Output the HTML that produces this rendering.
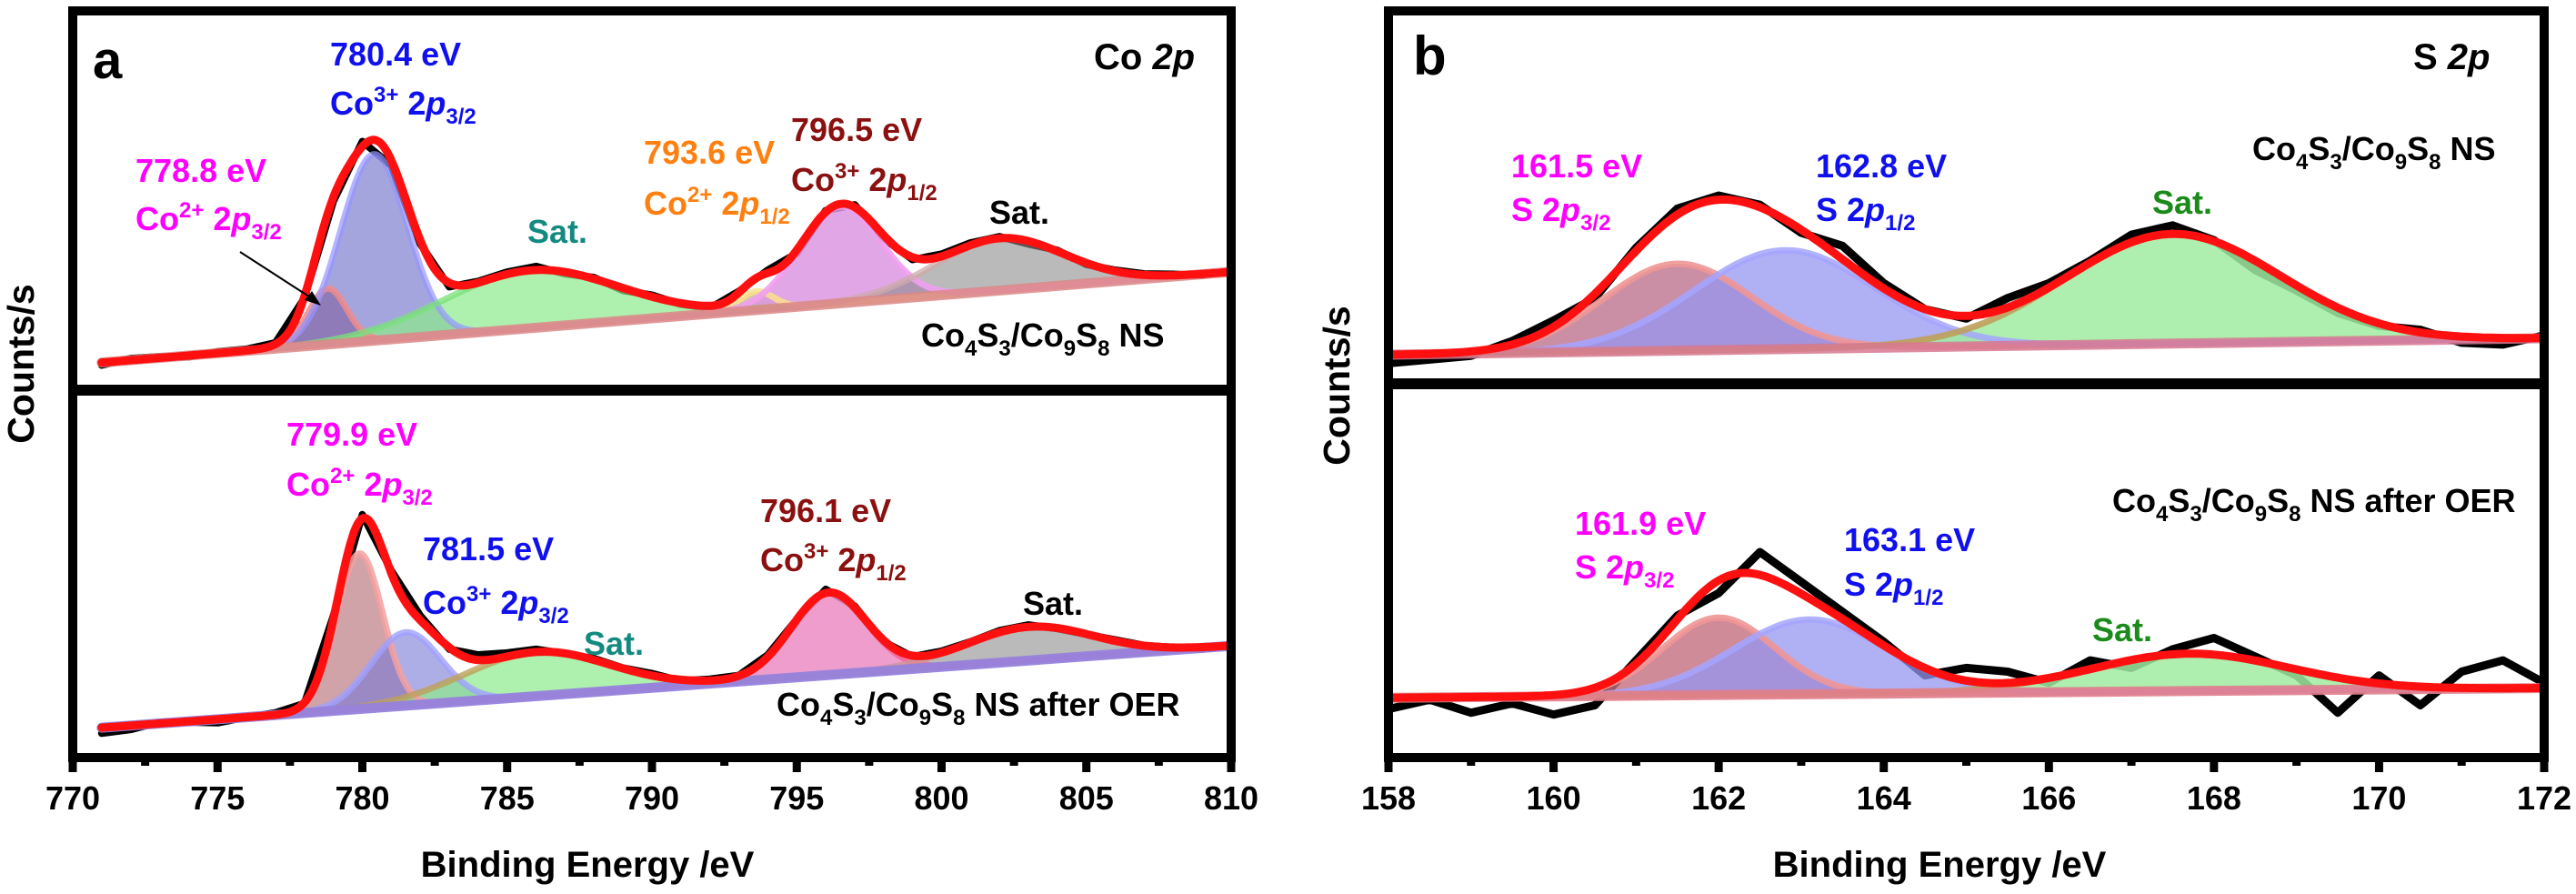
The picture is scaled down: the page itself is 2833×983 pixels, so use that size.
<!DOCTYPE html>
<html><head><meta charset="utf-8">
<style>
html,body{margin:0;padding:0;background:#fff;}
svg{display:block;font-family:"Liberation Sans",Arial,sans-serif;font-weight:bold;}
</style></head>
<body>
<svg id="chart" width="2833" height="983" viewBox="0 0 2833 983" xmlns="http://www.w3.org/2000/svg">
<defs>
<clipPath id="clipATop"><rect x="85" y="17" width="1264" height="405"/></clipPath>
<clipPath id="clipABot"><rect x="85" y="435" width="1264" height="393"/></clipPath>
<clipPath id="clipBTop"><rect x="1532" y="17" width="1261" height="399"/></clipPath>
<clipPath id="clipBBot"><rect x="1532" y="428" width="1261" height="400"/></clipPath>
</defs>
<g id="series"></g>
<g id="frames"></g>
<g id="ticks"></g>

<!-- axis titles -->
<text x="0" y="0" font-size="41" text-anchor="middle" transform="translate(37,400) rotate(-90)">Counts/s</text>
<text x="0" y="0" font-size="41" text-anchor="middle" transform="translate(1484,424) rotate(-90)">Counts/s</text>
<text x="646" y="964" font-size="40" text-anchor="middle">Binding Energy /eV</text>
<text x="2133" y="964" font-size="40" text-anchor="middle">Binding Energy /eV</text>

<!-- panel a labels -->
<text x="102" y="86" font-size="58">a</text>
<text x="1203" y="76" font-size="40">Co <tspan font-style="italic">2p</tspan></text>
<text x="363" y="72" font-size="36" fill="#1010ee">780.4 eV</text>
<text x="363" y="126" font-size="36" fill="#1010ee">Co<tspan dy="-14" font-size="24">3+</tspan><tspan dy="14"> 2</tspan><tspan font-style="italic">p</tspan><tspan dy="10" font-size="24">3/2</tspan></text>
<text x="149" y="200" font-size="36" fill="#ff00ff">778.8 eV</text>
<text x="149" y="253" font-size="36" fill="#ff00ff">Co<tspan dy="-14" font-size="24">2+</tspan><tspan dy="14"> 2</tspan><tspan font-style="italic">p</tspan><tspan dy="10" font-size="24">3/2</tspan></text>
<line x1="264" y1="277" x2="346" y2="330" stroke="#000" stroke-width="2"/>
<polygon points="353,336 335,330 343,320" fill="#000"/>
<text x="580" y="267" font-size="36" fill="#138a80">Sat.</text>
<text x="708" y="180" font-size="36" fill="#ff8010">793.6 eV</text>
<text x="708" y="236" font-size="36" fill="#ff8010">Co<tspan dy="-14" font-size="24">2+</tspan><tspan dy="14"> 2</tspan><tspan font-style="italic">p</tspan><tspan dy="10" font-size="24">1/2</tspan></text>
<text x="870" y="155" font-size="36" fill="#8b1010">796.5 eV</text>
<text x="870" y="210" font-size="36" fill="#8b1010">Co<tspan dy="-14" font-size="24">3+</tspan><tspan dy="14"> 2</tspan><tspan font-style="italic">p</tspan><tspan dy="10" font-size="24">1/2</tspan></text>
<text x="1088" y="246" font-size="36" fill="#000">Sat.</text>
<text x="1013" y="381" font-size="36">Co<tspan dy="10" font-size="24">4</tspan><tspan dy="-10">S</tspan><tspan dy="10" font-size="24">3</tspan><tspan dy="-10">/Co</tspan><tspan dy="10" font-size="24">9</tspan><tspan dy="-10">S</tspan><tspan dy="10" font-size="24">8</tspan><tspan dy="-10"> NS</tspan></text>

<text x="315" y="490" font-size="36" fill="#ff00ff">779.9 eV</text>
<text x="315" y="545" font-size="36" fill="#ff00ff">Co<tspan dy="-14" font-size="24">2+</tspan><tspan dy="14"> 2</tspan><tspan font-style="italic">p</tspan><tspan dy="10" font-size="24">3/2</tspan></text>
<text x="465" y="616" font-size="36" fill="#1010ee">781.5 eV</text>
<text x="465" y="675" font-size="36" fill="#1010ee">Co<tspan dy="-14" font-size="24">3+</tspan><tspan dy="14"> 2</tspan><tspan font-style="italic">p</tspan><tspan dy="10" font-size="24">3/2</tspan></text>
<text x="642" y="720" font-size="36" fill="#138a80">Sat.</text>
<text x="836" y="574" font-size="36" fill="#8b1010">796.1 eV</text>
<text x="836" y="628" font-size="36" fill="#8b1010">Co<tspan dy="-14" font-size="24">3+</tspan><tspan dy="14"> 2</tspan><tspan font-style="italic">p</tspan><tspan dy="10" font-size="24">1/2</tspan></text>
<text x="1125" y="676" font-size="36" fill="#000">Sat.</text>
<text x="854" y="787" font-size="36">Co<tspan dy="10" font-size="24">4</tspan><tspan dy="-10">S</tspan><tspan dy="10" font-size="24">3</tspan><tspan dy="-10">/Co</tspan><tspan dy="10" font-size="24">9</tspan><tspan dy="-10">S</tspan><tspan dy="10" font-size="24">8</tspan><tspan dy="-10"> NS after OER</tspan></text>

<!-- panel b labels -->
<text x="1554" y="82" font-size="60">b</text>
<text x="2654" y="76" font-size="40">S <tspan font-style="italic">2p</tspan></text>
<text x="1662" y="195" font-size="36" fill="#ff00ff">161.5 eV</text>
<text x="1662" y="243" font-size="36" fill="#ff00ff">S 2<tspan font-style="italic">p</tspan><tspan dy="10" font-size="24">3/2</tspan></text>
<text x="1997" y="195" font-size="36" fill="#1010ee">162.8 eV</text>
<text x="1997" y="243" font-size="36" fill="#1010ee">S 2<tspan font-style="italic">p</tspan><tspan dy="10" font-size="24">1/2</tspan></text>
<text x="2367" y="235" font-size="36" fill="#1a8a1a">Sat.</text>
<text x="2477" y="176" font-size="36">Co<tspan dy="10" font-size="24">4</tspan><tspan dy="-10">S</tspan><tspan dy="10" font-size="24">3</tspan><tspan dy="-10">/Co</tspan><tspan dy="10" font-size="24">9</tspan><tspan dy="-10">S</tspan><tspan dy="10" font-size="24">8</tspan><tspan dy="-10"> NS</tspan></text>
<text x="2323" y="563" font-size="36">Co<tspan dy="10" font-size="24">4</tspan><tspan dy="-10">S</tspan><tspan dy="10" font-size="24">3</tspan><tspan dy="-10">/Co</tspan><tspan dy="10" font-size="24">9</tspan><tspan dy="-10">S</tspan><tspan dy="10" font-size="24">8</tspan><tspan dy="-10"> NS after OER</tspan></text>
<text x="1732" y="588" font-size="36" fill="#ff00ff">161.9 eV</text>
<text x="1732" y="636" font-size="36" fill="#ff00ff">S 2<tspan font-style="italic">p</tspan><tspan dy="10" font-size="24">3/2</tspan></text>
<text x="2028" y="606" font-size="36" fill="#1010ee">163.1 eV</text>
<text x="2028" y="655" font-size="36" fill="#1010ee">S 2<tspan font-style="italic">p</tspan><tspan dy="10" font-size="24">1/2</tspan></text>
<text x="2301" y="705" font-size="36" fill="#1a8a1a">Sat.</text>
</svg>

<script>
// ---------- data ----------
const aTopRaw = [5,6.8,7.3,7.2,8.6,9.3,11,23,49,65,58.5,37.5,26,27.5,30,31.5,29.5,28.5,25,23.8,21.3,20.3,24.8,30.5,35,46.5,48,39,33.3,34.8,37.8,39.5,37.5,35.8,32,30.5,29.5,29.4,29.1,30.4];
const aTopBaseline = [5.7, 30.0];
const aTopCenters = [778.8, 780.4, 785.8, 793.6, 796.5, 802];
const aTopHeights = [15, 50, 15.5, 5, 26, 14];
const aTopSigmas = [0.66, 1.15, 3.0, 0.6, 1.4, 2.2];

const aBotRaw = [6.5,7.5,9.5,9.5,9.3,10.8,12,14.5,38,65,50,38,29,27.5,28,29,27.8,26.5,24,22.5,20.5,21,22,27.5,37,45,40.5,31,27,28.5,31,34,35.5,34.5,33,31.5,30,29.5,29,30];
const aBotBaseline = [8, 29.9];
const aBotCenters = [779.9, 781.5, 786, 796.1, 803];
const aBotHeights = [41.6, 19.6, 11.8, 22, 9];
const aBotSigmas = [0.8, 1.2, 2.5, 1.3, 2.2];

const bTopRaw = [5.5,6.5,7.5,11.5,17,23,36.5,47,50.5,48,40.5,37,27,20,17.5,23,27,33,40,42.5,38.5,30.5,25,19,15.5,14.5,11,10.5,13];
const bTopBaseline = [7.8, 12.2];
const bTopCenters = [161.5, 162.8, 167.5];
const bTopHeights = [23.3, 26.5, 29.4];
const bTopSigmas = [0.9, 1.1, 1.3];

const bBotRaw = [13,15.5,12,14.5,11.5,14,26,38,44,55,47,39,31,22,24,23,20,26,24,29,32,27,22,12,22,14,23,26,20];
const bBotBaseline = [16, 18.6];
const bBotCenters = [162, 163.1, 167.7];
const bBotHeights = [20.7, 20, 10];
const bBotSigmas = [0.68, 0.93, 1.2];

const aTicks = [770,775,780,785,790,795,800,805,810];
const bTicks = [158,160,162,164,166,168,170,172];

// ---------- geometry ----------
const NS = 'http://www.w3.org/2000/svg';
const A = {x0:80, x1:1354, e0:770, e1:810, div:429};
const B = {x0:1527, x1:2798, e0:158, e1:172, div:422};
const TOP = {y0:422, k:4.1}, BOT = {y0:833, k:4.11};
const sx = (P, e) => P.x0 + (e - P.e0) / (P.e1 - P.e0) * (P.x1 - P.x0);
const sy = (S, v) => S.y0 - v * S.k;

function el(tag, attrs, parent){
  const n = document.createElementNS(NS, tag);
  for (const k in attrs) n.setAttribute(k, attrs[k]);
  parent.appendChild(n);
  return n;
}

const series = document.getElementById('series');

function drawSub(name, P, S, clip, rawStart, rawStep, raw, baseEnds, centers, heights, sigmas, style){
  const g = el('g', {'clip-path':'url(#'+clip+')'}, series);
  
  
  const lo = rawStart, hi = rawStart + rawStep * (raw.length - 1);
  const base = e => baseEnds[0] + (baseEnds[1] - baseEnds[0]) * (e - lo) / (hi - lo);
  const comp = (i, e) => heights[i] * Math.exp(-Math.pow(e - centers[i], 2) / (2 * sigmas[i] * sigmas[i]));
  const grid = [];
  for (let e = lo; e <= hi + 1e-9; e += 0.05) grid.push(e);

  let d = raw.map((v, i) => (i ? 'L' : 'M') + sx(P, lo + i * rawStep).toFixed(1) + ',' + sy(S, v).toFixed(1)).join('');
  const rawPath = el('path', {d:d, fill:'none', stroke:'#000', 'stroke-width':style.rawW, 'stroke-linejoin':'round', 'stroke-linecap':'round'}, g);
  
  

  centers.forEach((c, i) => {
    let top = grid.map((e, j) => (j ? 'L' : 'M') + sx(P, e).toFixed(1) + ',' + sy(S, base(e) + comp(i, e)).toFixed(1)).join('');
    let back = grid.slice().reverse().map(e => 'L' + sx(P, e).toFixed(1) + ',' + sy(S, base(e)).toFixed(1)).join('');
    const f = el('path', {d: top + back + 'Z', fill: style.fills[i], stroke:'none'}, g);
    
    
  });
  centers.forEach((c, i) => {
    let top = grid.map((e, j) => (j ? 'L' : 'M') + sx(P, e).toFixed(1) + ',' + sy(S, base(e) + comp(i, e)).toFixed(1)).join('');
    const s = el('path', {d: top, fill:'none', stroke: style.strokes[i], 'stroke-width':7, 'stroke-linejoin':'round'}, g);
    
    
  });
  const bl = el('line', {x1:sx(P, lo), y1:sy(S, base(lo)), x2:sx(P, hi), y2:sy(S, base(hi)), stroke: style.base, 'stroke-width':11, 'stroke-linecap':'round'}, g);
  
  
  let env = grid.map((e, j) => {
    let v = base(e);
    centers.forEach((c, i) => { v += comp(i, e); });
    return (j ? 'L' : 'M') + sx(P, e).toFixed(1) + ',' + sy(S, v).toFixed(1);
  }).join('');
  const en = el('path', {d: env, fill:'none', stroke: style.env, 'stroke-width':9, 'stroke-linejoin':'round', 'stroke-linecap':'round'}, g);
  
  
}

drawSub('co2p-pristine', A, TOP, 'clipATop', 771, 1, aTopRaw, aTopBaseline, aTopCenters, aTopHeights, aTopSigmas, {
  rawW: 8, env:'#ff1010', base:'rgba(220,135,135,0.85)',
  fills:['rgba(160,80,95,0.6)','rgba(105,105,200,0.6)','rgba(140,235,140,0.7)','rgba(190,160,110,0.6)','rgba(220,150,225,0.85)','rgba(140,140,140,0.6)'],
  strokes:['rgba(240,140,140,0.85)','rgba(150,150,255,0.7)','rgba(120,225,120,0.75)','rgba(250,225,140,0.85)','rgba(240,160,240,0.9)','rgba(205,170,170,0.75)']
});
drawSub('co2p-after-oer', A, BOT, 'clipABot', 771, 1, aBotRaw, aBotBaseline, aBotCenters, aBotHeights, aBotSigmas, {
  rawW: 8, env:'#ff1010', base:'rgba(150,130,220,0.95)',
  fills:['rgba(195,140,145,0.8)','rgba(120,120,215,0.6)','rgba(140,235,140,0.7)','rgba(235,140,195,0.85)','rgba(140,140,140,0.6)'],
  strokes:['rgba(245,160,160,0.85)','rgba(160,160,255,0.8)','rgba(190,160,90,0.8)','rgba(245,100,150,0.85)','rgba(205,150,150,0.75)']
});
drawSub('s2p-pristine', B, TOP, 'clipBTop', 158, 0.5, bTopRaw, bTopBaseline, bTopCenters, bTopHeights, bTopSigmas, {
  rawW: 9, env:'#ff1010', base:'rgba(215,120,145,0.85)',
  fills:['rgba(185,105,135,0.75)','rgba(150,150,240,0.75)','rgba(160,235,160,0.85)'],
  strokes:['rgba(240,150,150,0.9)','rgba(165,165,255,0.85)','rgba(190,160,90,0.9)']
});
drawSub('s2p-after-oer', B, BOT, 'clipBBot', 158, 0.5, bBotRaw, bBotBaseline, bBotCenters, bBotHeights, bBotSigmas, {
  rawW: 9, env:'#ff1010', base:'rgba(225,125,140,0.9)',
  fills:['rgba(195,110,125,0.8)','rgba(150,150,240,0.75)','rgba(160,235,160,0.85)'],
  strokes:['rgba(240,150,150,0.9)','rgba(165,165,255,0.85)','rgba(190,160,90,0.9)']
});

// ---------- frames ----------
const frames = document.getElementById('frames');
[[A,'panel-a'],[B,'panel-b']].forEach(([P, nm]) => {
  const r = el('rect', {x:P.x0, y:12, width:P.x1 - P.x0, height:821, fill:'none', stroke:'#000', 'stroke-width':10}, frames);
  
  
  const dv = el('line', {x1:P.x0, y1:P.div, x2:P.x1, y2:P.div, stroke:'#000', 'stroke-width':12}, frames);
  
  
});

// ---------- ticks ----------
const tg = document.getElementById('ticks');
function drawTicks(P, ticks, nm){
  const step = ticks[1] - ticks[0];
  ticks.forEach((t, i) => {
    const x = sx(P, t);
    const tk = el('line', {x1:x, y1:833, x2:x, y2:849, stroke:'#000', 'stroke-width':9}, tg);
    
    
    if (i < ticks.length - 1) {
      const xm = sx(P, t + step / 2);
      const mt = el('line', {x1:xm, y1:833, x2:xm, y2:842, stroke:'#000', 'stroke-width':9}, tg);
      
      
    }
    const lb = el('text', {x:x, y:890, 'font-size':36, 'text-anchor':'middle'}, tg);
    lb.textContent = String(t);
    
    
  });
}
drawTicks(A, aTicks, 'x-axis-a');
drawTicks(B, bTicks, 'x-axis-b');
</script>
</body></html>
